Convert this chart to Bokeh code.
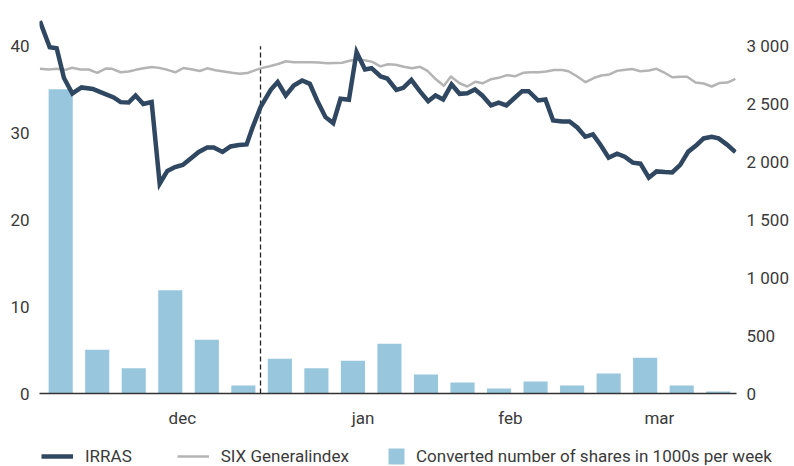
from bokeh.plotting import figure
from bokeh.layouts import column
from bokeh.models import Range1d, LinearAxis, FixedTicker, Legend, LegendItem
from bokeh.embed import file_html
from bokeh.resources import INLINE

# ---------------- data ----------------
week_pos = list(range(19))
shares_k = [35.05, 5.04, 2.9, 11.9, 6.2, 0.92, 4.0, 2.9, 3.78, 5.73,
            2.18, 1.26, 0.57, 1.37, 0.92, 2.29, 4.12, 0.92, 0.23]

irras_x = [-0.57, -0.30, -0.11, 0.09, 0.32, 0.57, 0.88, 1.09, 1.45, 1.64,
           1.86, 2.05, 2.26, 2.49, 2.71, 2.92, 3.13, 3.34, 3.56, 3.78,
           4.01, 4.19, 4.43, 4.65, 4.88, 5.09, 5.24, 5.47, 5.75, 5.94,
           6.16, 6.38, 6.61, 6.82, 7.02, 7.25, 7.46, 7.66, 7.89, 8.10,
           8.33, 8.51, 8.76, 8.94, 9.19, 9.38, 9.60, 9.83, 10.06, 10.26,
           10.47, 10.70, 10.92, 11.13, 11.34, 11.54, 11.78, 11.99, 12.20, 12.40,
           12.63, 12.81, 13.07, 13.27, 13.48, 13.73, 13.93, 14.14, 14.36, 14.57,
           14.78, 15.00, 15.23, 15.44, 15.66, 15.87, 16.10, 16.31, 16.54, 16.74,
           16.96, 17.18, 17.41, 17.60, 17.82, 18.01, 18.24, 18.47]
irras_y = [42.9, 39.89, 39.77, 36.34, 34.56, 35.25, 35.07, 34.71, 34.10, 33.56,
           33.52, 34.33, 33.35, 33.58, 24.17, 25.64, 26.08, 26.33, 27.08, 27.83,
           28.34, 28.34, 27.83, 28.46, 28.63, 28.69, 30.49, 32.98, 34.98, 35.88,
           34.33, 35.48, 36.05, 35.67, 33.75, 31.83, 31.14, 33.95, 33.83, 39.31,
           37.32, 37.47, 36.51, 36.28, 34.98, 35.21, 36.13, 34.82, 33.67, 34.33,
           33.87, 35.59, 34.52, 34.59, 35.02, 34.33, 33.18, 33.49, 33.18, 33.95,
           34.82, 34.82, 33.75, 33.87, 31.45, 31.34, 31.34, 30.64, 29.57, 29.84,
           28.63, 27.16, 27.62, 27.27, 26.59, 26.47, 24.86, 25.58, 25.50, 25.47,
           26.33, 27.86, 28.63, 29.38, 29.57, 29.38, 28.67, 27.80]

six_x = [-0.57, -0.33, -0.10, 0.13, 0.31, 0.54, 0.77, 1.00, 1.23, 1.41,
         1.64, 1.86, 2.05, 2.27, 2.50, 2.69, 2.92, 3.14, 3.36, 3.57,
         3.81, 4.01, 4.24, 4.46, 4.69, 4.90, 5.11, 5.33, 5.52, 5.72,
         5.95, 6.17, 6.38, 6.61, 6.84, 7.07, 7.30, 7.52, 7.71, 7.88,
         8.10, 8.32, 8.53, 8.75, 8.96, 9.17, 9.39, 9.62, 9.84, 10.04,
         10.27, 10.49, 10.68, 10.92, 11.13, 11.35, 11.55, 11.77, 11.99, 12.22,
         12.43, 12.66, 12.86, 13.09, 13.29, 13.50, 13.73, 13.90, 14.12, 14.37,
         14.59, 14.80, 15.02, 15.23, 15.46, 15.64, 15.87, 16.10, 16.31, 16.51,
         16.74, 16.97, 17.15, 17.38, 17.60, 17.82, 18.03, 18.25, 18.47]
six_y = [2805, 2799, 2805, 2796, 2814, 2799, 2799, 2770, 2807, 2805,
         2775, 2781, 2796, 2810, 2820, 2813, 2796, 2775, 2812, 2801,
         2786, 2809, 2793, 2781, 2770, 2762, 2768, 2794, 2813, 2827,
         2846, 2870, 2862, 2862, 2862, 2859, 2853, 2855, 2857, 2872,
         2885, 2878, 2865, 2826, 2844, 2840, 2822, 2809, 2822, 2787,
         2714, 2658, 2738, 2680, 2652, 2693, 2680, 2714, 2727, 2750,
         2740, 2770, 2775, 2775, 2781, 2794, 2794, 2784, 2743, 2689,
         2725, 2747, 2756, 2787, 2797, 2803, 2784, 2790, 2805, 2775,
         2732, 2737, 2736, 2686, 2678, 2652, 2682, 2686, 2718]

month_pos = [3.33, 8.28, 12.31, 16.39]
month_labels = ["dec", "jan", "feb", "mar"]
left_ticks = [0, 10, 20, 30, 40]
right_ticks = [0, 500, 1000, 1500, 2000, 2500, 3000]
right_labels = ["0", "500", "1 000", "1 500", "2 000", "2 500", "3 000"]
divider_x = 5.47
divider_top = 40

# ---------------- styling ----------------
FONT = "Roboto"
FS = "17px"
TXT = "#3a3a3a"
NAVY = "#2f4760"
GREY = "#b4b4b4"
BLUE = "#98c6dd"
W = 794
LEG_H = 32

p = figure(width=W, height=466 - LEG_H,
           x_range=Range1d(-0.58, 18.5), y_range=Range1d(0, 44),
           output_backend="svg", toolbar_location=None,
           min_border_left=39, min_border_right=58,
           min_border_top=11, min_border_bottom=41)
p.extra_y_ranges = {"six": Range1d(0, 44 * 75)}
p.outline_line_color = None
p.xgrid.visible = False
p.ygrid.visible = False
p.background_fill_color = "white"

bars = p.vbar(x=week_pos, top=shares_k, width=0.66, fill_color=BLUE, line_color=None)
p.segment(x0=[divider_x], y0=[0], x1=[divider_x], y1=[divider_top],
          line_color="#222222", line_width=1.3, line_dash="5 3")
six = p.line(six_x, six_y, y_range_name="six", line_color=GREY, line_width=2.5,
             line_join="round")
irras = p.line(irras_x, irras_y, line_color=NAVY, line_width=4.5, line_join="miter")

# x axis
xa = p.xaxis[0]
xa.ticker = FixedTicker(ticks=month_pos)
xa.major_label_overrides = {k: v for k, v in zip(month_pos, month_labels)}
xa.axis_line_color = "#333333"
xa.axis_line_width = 1.6
xa.major_tick_line_color = None
xa.minor_tick_line_color = None
xa.major_tick_out = 0
xa.major_tick_in = 0
xa.major_label_standoff = 14

# left axis
ya = p.yaxis[0]
ya.ticker = FixedTicker(ticks=left_ticks)

# right axis
ra = LinearAxis(y_range_name="six", ticker=FixedTicker(ticks=right_ticks),
                major_label_overrides={k: v for k, v in zip(right_ticks, right_labels)})
p.add_layout(ra, "right")

for ax in (ya, ra):
    ax.axis_line_color = None
    ax.major_tick_line_color = None
    ax.minor_tick_line_color = None
    ax.major_tick_out = 0
    ax.major_tick_in = 0
    ax.major_label_standoff = 10

for ax in (xa, ya, ra):
    ax.major_label_text_font = FONT
    ax.major_label_text_font_size = FS
    ax.major_label_text_color = TXT

# ---------------- legend strip ----------------
lg = figure(width=W, height=LEG_H, x_range=Range1d(0, 1), y_range=Range1d(0, 1),
            output_backend="svg", toolbar_location=None,
            x_axis_location=None, y_axis_location=None,
            min_border=0, min_border_left=0, min_border_right=0,
            min_border_top=0, min_border_bottom=0)
lg.frame_align = False
lg.outline_line_color = None
lg.xgrid.visible = False
lg.ygrid.visible = False
# key glyphs for the legend (their single point lies outside the strip's range)
k_irras = lg.line(x=[-5], y=[-5], line_color=NAVY, line_width=4.5)
k_six = lg.line(x=[-5], y=[-5], line_color=GREY, line_width=2.5)
k_bar = lg.vbar(x=[-5], top=[-5], width=1, fill_color=BLUE, line_color=None)

common = dict(orientation="horizontal", padding=0, margin=0,
              border_line_color=None, background_fill_alpha=0,
              label_text_font=FONT, label_text_font_size=FS,
              label_text_color=TXT)
leg1 = Legend(items=[LegendItem(label="IRRAS", renderers=[k_irras]),
                     LegendItem(label="SIX Generalindex", renderers=[k_six])],
              location=(41, 0), glyph_width=32, glyph_height=20,
              label_standoff=12, spacing=45, **common)
leg2 = Legend(items=[LegendItem(label="Converted number of shares in 1000s per week",
                                renderers=[k_bar])],
              location=(386, 0), glyph_width=20, glyph_height=20,
              label_standoff=10, **common)
lg.add_layout(leg1, "center")
lg.add_layout(leg2, "center")

layout = column(p, lg, spacing=0)
open("out.html", "w").write(file_html(layout, INLINE))
